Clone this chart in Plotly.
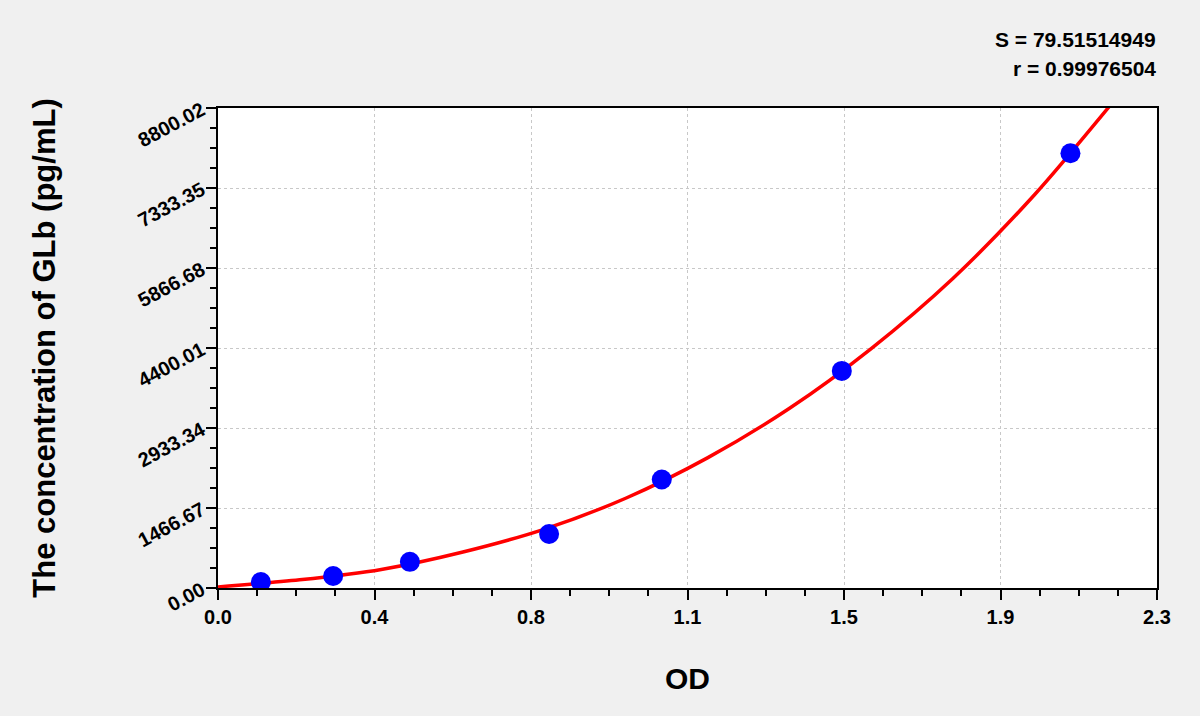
import plotly.graph_objects as go

# standard points (OD vs concentration)
od_values = [0.105, 0.282, 0.470, 0.811, 1.087, 1.528, 2.088]
conc_values = [110, 220, 480, 990, 1990, 3980, 7970]

# fitted curve
curve_od = [0.0, 0.2, 0.4, 0.6, 0.8, 1.0, 1.2, 1.4, 1.6, 1.8, 2.0, 2.19]
curve_conc = [20, 150, 340, 660, 1080, 1650, 2390, 3295, 4390, 5675, 7210, 8890]

x_tickvals = [0.0, 2.3 / 6, 2 * 2.3 / 6, 3 * 2.3 / 6, 4 * 2.3 / 6, 5 * 2.3 / 6, 2.3]
x_ticktext = ['0.0', '0.4', '0.8', '1.1', '1.5', '1.9', '2.3']
y_tickvals = [0.0, 1466.67, 2933.34, 4400.01, 5866.68, 7333.35, 8800.02]
y_ticktext = ['0.00', '1466.67', '2933.34', '4400.01', '5866.68', '7333.35', '8800.02']

fit_text = ['S = 79.51514949', 'r = 0.99976504']

font_name = 'Liberation Sans, Arial, sans-serif'

fig = go.Figure()

fig.add_trace(go.Scatter(
    x=curve_od, y=curve_conc, mode='lines',
    line=dict(color='#ff0000', width=3.5, shape='spline', smoothing=0.8),
    showlegend=False, hoverinfo='skip'
))
fig.add_trace(go.Scatter(
    x=od_values, y=conc_values, mode='markers',
    marker=dict(color='#0000ff', size=20, line=dict(width=0)),
    showlegend=False
))

axis_common = dict(
    showline=True, linecolor='black', linewidth=2, mirror=True,
    ticks='outside', ticklen=10, tickwidth=2, tickcolor='black',
    showgrid=True, gridcolor='#c8c8c8', griddash='dot', gridwidth=1,
    zeroline=False,
    tickfont=dict(family=font_name, size=20, color='black', weight='bold'),
)

fig.update_xaxes(
    range=[0, 2.3], tickmode='array', tickvals=x_tickvals, ticktext=x_ticktext,
    minor=dict(tick0=0, dtick=2.3 / 24, ticks='outside', ticklen=6,
               tickwidth=2, tickcolor='black', showgrid=False),
    title=dict(text='OD', standoff=41,
               font=dict(family=font_name, size=30, color='black', weight='bold')),
    **axis_common
)
fig.update_yaxes(
    range=[0, 8800.02], tickmode='array', tickvals=y_tickvals, ticktext=y_ticktext,
    tickangle=-28,
    minor=dict(tick0=0, dtick=1466.67 / 4, ticks='outside', ticklen=6,
               tickwidth=2, tickcolor='black', showgrid=False),
    title=dict(text='The concentration of GLb (pg/mL)', standoff=70,
               font=dict(family=font_name, size=31, color='black', weight='bold')),
    **axis_common
)

for i, t in enumerate(fit_text):
    fig.add_annotation(
        text=t, xref='paper', yref='paper', x=1.001, y=1.1417 - i * 0.0584,
        xanchor='right', yanchor='middle', showarrow=False,
        font=dict(family=font_name, size=21, color='black', weight='bold')
    )

fig.update_layout(
    width=1200, height=716,
    margin=dict(l=218, r=43, t=108, b=128),
    paper_bgcolor='#f0f0f0', plot_bgcolor='white',
)

# drop the page's default body margin so the figure sits at the window corner
fig.write_html("out.html",
               config={'displayModeBar': False},
               post_script="document.body.style.margin='0';"
                           "document.body.style.background='#f0f0f0';")
